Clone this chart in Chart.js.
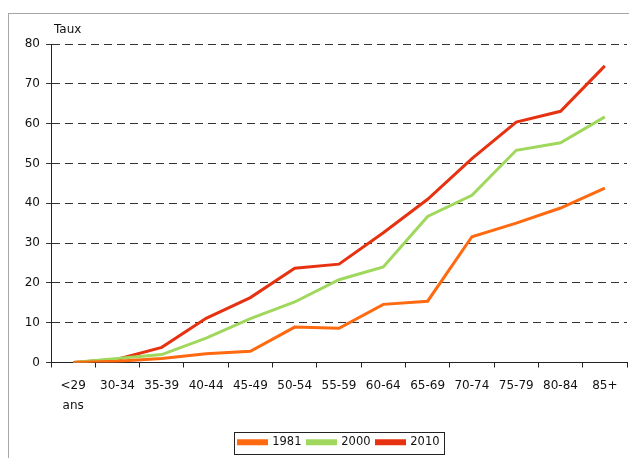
<!DOCTYPE html>
<html>
<head>
<meta charset="utf-8">
<script src="https://cdn.jsdelivr.net/npm/chart.js@4/dist/chart.umd.min.js"></script>
<style>
  html, body { margin: 0; padding: 0; background: #fff; overflow: hidden; }
  #frame { position: absolute; left: 8px; top: 13px; width: 700px; height: 500px; border: 1px solid #a6a6a6; }
  #wrap { position: absolute; left: 0; top: 0; width: 629px; height: 458px; }
</style>
</head>
<body>
<div id="frame"></div>
<div id="wrap"><canvas id="myChart" width="629" height="458"></canvas></div>
<script>
const ageGroups = [["<29", "ans"], "30-34", "35-39", "40-44", "45-49", "50-54", "55-59", "60-64", "65-69", "70-74", "75-79", "80-84", "85+"];
const years = ["1981", "2000", "2010"];
const rates1981 = [0, 0.3, 1.0, 2.2, 2.8, 8.9, 8.6, 14.6, 15.4, 31.6, 35.0, 38.8, 43.8];
const rates2000 = [0, 1.0, 2.0, 6.1, 11.0, 15.2, 20.8, 24.0, 36.7, 42.0, 53.3, 55.2, 61.7];
const rates2010 = [0, 0.8, 3.8, 11.1, 16.3, 23.7, 24.7, 32.6, 41.0, 51.2, 60.4, 63.1, 74.5];
const colors = ["#ff6a10", "#9fd85c", "#e63210"];
const yTitle = "Taux";

Chart.defaults.font.family = "'DejaVu Sans', Verdana, sans-serif";
Chart.defaults.font.size = 12;
Chart.defaults.color = "#111";

// draws "Taux" and a frame round the legend
const extras = {
  id: "extras",
  afterDraw(chart) {
    const ctx = chart.ctx;
    ctx.save();
    ctx.fillStyle = "#111";
    ctx.font = "12px 'DejaVu Sans'";
    ctx.textAlign = "left";
    ctx.textBaseline = "middle";
    ctx.fillText(yTitle, chart.chartArea.left + 3, 30);
    const boxes = chart.legend.legendHitBoxes;
    if (boxes && boxes.length) {
      const l = boxes[0].left - 4;
      const r = boxes[boxes.length - 1].left + boxes[boxes.length - 1].width + 5;
      const t = boxes[0].top - 5;
      const b = boxes[0].top + boxes[0].height + 5;
      ctx.strokeStyle = "#222";
      ctx.lineWidth = 1;
      ctx.strokeRect(Math.round(l) + 0.5, Math.round(t) + 0.5, Math.round(r - l), Math.round(b - t));
    }
    ctx.restore();
  }
};

const datasets = [rates1981, rates2000, rates2010].map((values, i) => ({
  label: years[i],
  data: values,
  borderColor: colors[i],
  backgroundColor: colors[i],
  borderWidth: 3,
  pointRadius: 0,
  tension: 0,
}));

new Chart(document.getElementById("myChart"), {
  type: "line",
  data: { labels: ageGroups, datasets },
  plugins: [extras],
  options: {
    responsive: false,
    animation: false,
    layout: { padding: { top: 44, right: 2, left: 0, bottom: 0 } },
    plugins: {
      tooltip: { enabled: false },
      legend: {
        position: "bottom",
        fullSize: false,
        labels: { boxWidth: 28, boxHeight: 3, padding: 6, color: "#111", font: { size: 11.5 } },
      },
    },
    scales: {
      x: {
        offset: true,
        grid: { offset: true, drawOnChartArea: false, tickLength: 5, color: "#222" },
        border: { color: "#222", width: 1 },
        ticks: { padding: 8, maxRotation: 0, autoSkip: false, font: { size: 12, lineHeight: 1.7 } },
        afterFit: scale => { scale.height = 68; },
      },
      y: {
        min: 0,
        max: 80,
        ticks: { stepSize: 10, padding: 6 },
        grid: { color: "#333", lineWidth: 1, tickLength: 5 },
        border: { color: "#222", width: 1, dash: [8, 5] },
        afterFit: scale => { scale.width = 51; },
      },
    },
  },
});
</script>
</body>
</html>
